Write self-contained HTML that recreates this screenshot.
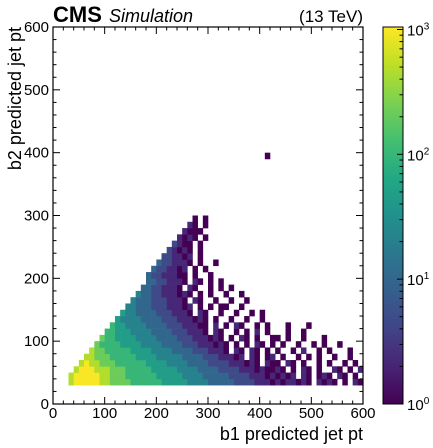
<!DOCTYPE html>
<html><head><meta charset="utf-8"><style>
body{margin:0;background:#fff;}
svg{display:block;font-family:"Liberation Sans",sans-serif;}
</style></head><body>
<svg id="c" width="433" height="448"></svg>
<script>
// 2D histogram: rows are y-bins starting at yStarts, each char is a column (x = 30 + 10*c)
// char d -> count = 10^(d/3); '.' = empty
const xBinStart = 30;
const binWidth = 10;
const yStarts = [30,40,50,60,70,80,90,100,110,120,130,140,150,160,170,180,190,200,210,220,230,240,250,260,270,280,290,390];
const rowLevels = [
"8999998877"+"7766666655"+"5554444333"+"3322221110"+"1011010.10"+"10.0.10",
"8999998877"+"7666666555"+"5544443333"+"3222211101"+"0101.10.01"+"0.10.0.",
".899988877"+"7666665555"+"5444433332"+"2221110100"+"10.0.10.0."+".10.0.1",
"..89887776"+"6666655554"+"4443333222"+"2111010.10"+"0.10.0..0."+"0..0.0",
"...8877766"+"6665555444"+"4433332221"+"1101.10.01"+".0..0.0.0."+".0..0.",
"....877666"+"6655554444"+"3333222111"+"0.10.10.0."+"0..0.1..0."+"0...0",
".....76666"+"5555444433"+"3322211101"+"0.0.0.10.0"+".0..0..0.0"+"..0",
"......7665"+"5554444333"+"3222111010"+".0.10.0..0"+"0.0..0...0",
".......665"+"5544443333"+"2221110.10"+"..0.0.1.0."+"..0..0",
"........65"+"5444433332"+"2211100.1."+"0.10..0.0."+"..0...0",
".........5"+"4444333322"+"2111010.0."+".0..0..0",
".........."+"5443333222"+"1110.10..0"+"..0..0.0",
".........."+".443332221"+"1101.0.0.0"+"0..0",
".........."+"..43332221"+"110.10..0."+".0..0",
".........."+"...4332211"+"1010.0.0.."+"0..0",
".........."+"....332211"+"10.10..0.0"+".0",
".........."+".....33221"+"110.10.0.0",
".........."+".....3221"+"1100.0..0",
".........."+"......3221"+"101.0.0",
".........."+".......322"+"1110.0..0",
".........."+"........2"+"21101.0",
".........."+".........2"+"1010.0",
".........."+".........."+"2100.0",
".........."+".........."+".1010.0",
".........."+".........."+"..1000",
".........."+".........."+"...10.0",
".........."+".........."+"....0.0",
"......................................0"
];
const xTicks = [0,100,200,300,400,500,600];
const yTicks = [0,100,200,300,400,500,600];
const cbExps = [0,1,2,3];

const NS="http://www.w3.org/2000/svg";
const svg=document.getElementById('c');
const X0=53,X1=363,Y0=404,Y1=27;
const sx=v=>X0+(X1-X0)*v/600, sy=v=>Y0-(Y0-Y1)*v/600;
const CB0=383,CB1=403,cbMax=3.02;
const cy=l=>Y0-(Y0-Y1)*l/cbMax;
const V=[[68,1,84],[72,36,117],[65,68,135],[53,95,141],[42,120,142],[33,145,140],[34,168,132],[68,191,112],[122,209,81],[189,223,38],[253,231,37]];
function vir(t){t=Math.max(0,Math.min(1,t));const f=t*10,i=Math.min(9,Math.floor(f)),r=f-i;const a=V[i],b=V[i+1];return `rgb(${a.map((x,k)=>Math.round(x+(b[k]-x)*r)).join(',')})`;}
function el(t,a,p){const e=document.createElementNS(NS,t);for(const k in a)e.setAttribute(k,a[k]);(p||svg).appendChild(e);return e;}

const g=el('g',{});


rowLevels.forEach((row,ri)=>{
  const y=yStarts[ri];
  for(let c=0;c<row.length&&c<57;c++){
    const ch=row[c]; if(ch==='.')continue;
    const lg=(+ch)/3; const x=xBinStart+binWidth*c;
    const r=el('rect',{x:sx(x),y:sy(y+binWidth),width:sx(x+binWidth)-sx(x)+0.3,height:sy(y)-sy(y+binWidth)+0.3,fill:vir(lg/cbMax)},g);
    
    
  }
});
const fr=el('rect',{x:X0,y:Y1,width:X1-X0,height:Y0-Y1,fill:'none',stroke:'#000','stroke-width':1.2});


for(let v=0;v<=600;v+=20){
  const maj=v%100===0,L=maj?7:3.5;
  el('line',{x1:sx(v),x2:sx(v),y1:Y0,y2:Y0-L,stroke:'#000'});
  el('line',{x1:sx(v),x2:sx(v),y1:Y1,y2:Y1+L,stroke:'#000'});
  el('line',{x1:X0,x2:X0+L,y1:sy(v),y2:sy(v),stroke:'#000'});
  el('line',{x1:X1,x2:X1-L,y1:sy(v),y2:sy(v),stroke:'#000'});
}
xTicks.forEach(v=>{const t=el('text',{x:sx(v),y:418,'text-anchor':'middle','font-size':15});t.textContent=v;
});
yTicks.forEach(v=>{const t=el('text',{x:X0-4,y:sy(v)+5,'text-anchor':'end','font-size':15});t.textContent=v;
});
let t=el('text',{x:X1,y:440,'text-anchor':'end','font-size':18});t.textContent='b1 predicted jet pt';

t=el('text',{x:0,y:0,'text-anchor':'end','font-size':18,transform:`translate(21,${Y1}) rotate(-90)`});t.textContent='b2 predicted jet pt';

t=el('text',{x:X0,y:22,'font-size':22,'font-weight':'bold'});t.textContent='CMS';

t=el('text',{x:109,y:22,'font-size':18,'font-style':'italic'});t.textContent='Simulation';

t=el('text',{x:X1,y:22,'font-size':17,'text-anchor':'end'});t.textContent='(13 TeV)';

const defs=el('defs',{});const lgd=el('linearGradient',{id:'vg',x1:0,y1:1,x2:0,y2:0},defs);
for(let i=0;i<=10;i++)el('stop',{offset:i/10,'stop-color':vir(i/10)},lgd);
const cb=el('rect',{x:CB0,y:Y1,width:CB1-CB0,height:Y0-Y1,fill:'url(#vg)',stroke:'#000','stroke-width':1});

for(let e=0;e<4;e++)for(let m=1;m<10;m++){const l=e+Math.log10(m);if(l>cbMax)break;
  el('line',{x1:CB1,x2:CB1-(m===1?6:3.5),y1:cy(l),y2:cy(l),stroke:'#000'});}
cbExps.forEach(e=>{const tt=el('text',{x:CB1+4,y:cy(e)+6,'font-size':15});tt.innerHTML=`10<tspan dy="-6" font-size="10">${e}</tspan>`;
});
</script>
</body></html>
